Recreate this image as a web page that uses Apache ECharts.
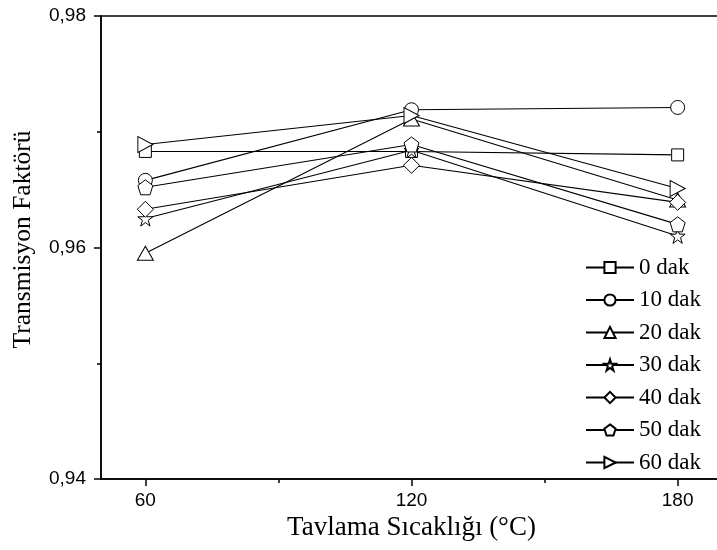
<!DOCTYPE html>
<html>
<head>
<meta charset="utf-8">
<script src="https://cdn.jsdelivr.net/npm/echarts@6/dist/echarts.min.js"></script>
<style>
  html, body { margin: 0; padding: 0; background: #fff; overflow: hidden; }
  #chart { width: 717px; height: 550px; }
</style>
</head>
<body>
<div id="chart"></div>
<script>
// Annealing temperatures (°C)
const temps = [60, 120, 180];
const majorTicksX = [60, 120, 180];
const minorTicksX = [90, 150];

// Transmission factor per annealing time
const seriesNames = ['0 dak', '10 dak', '20 dak', '30 dak', '40 dak', '50 dak', '60 dak'];
const dak0  = [0.9683, 0.9683, 0.9680];
const dak10 = [0.9658, 0.9719, 0.9721];
const dak20 = [0.9595, 0.9711, 0.9641];
const dak30 = [0.9625, 0.9684, 0.9610];
const dak40 = [0.9633, 0.9671, 0.9639];
const dak50 = [0.9652, 0.9689, 0.9620];
const dak60 = [0.9689, 0.9714, 0.9651];
const seriesValues = [dak0, dak10, dak20, dak30, dak40, dak50, dak60];

// Hollow marker outlines
const starPath = 'path://M50,2 L61.2,36.6 L97.6,36.6 L68.2,58 L79.4,92.6 L50,71.2 L20.6,92.6 L31.8,58 L2.4,36.6 L38.8,36.6 Z';
const pentagonPath = 'path://M50,2 L97.6,36.6 L79.4,92.6 L20.6,92.6 L2.4,36.6 Z';
const symbols = ['rect', 'circle', 'triangle', starPath, 'diamond', pentagonPath, 'triangle'];
const symbolSizes = [12, 14, [16, 14], 15, 16, 15, [16, 15]];
const symbolRotates = [0, 0, 0, 0, 0, 0, -90];

const serif = '"Liberation Serif", "Times New Roman", serif';
const sans = '"Liberation Sans", Arial, sans-serif';

const chart = echarts.init(document.getElementById('chart'));

const series = seriesNames.map((name, i) => ({
  name: name,
  type: 'line',
  data: temps.map((t, j) => [t, seriesValues[i][j]]),
  symbol: symbols[i],
  symbolSize: symbolSizes[i],
  symbolRotate: symbolRotates[i],
  showAllSymbol: true,
  lineStyle: { color: '#000', width: 1.1 },
  itemStyle: { color: '#fff', borderColor: '#000', borderWidth: 1 },
  emphasis: { disabled: true },
  animation: false,
  z: 2 + i
}));

chart.setOption({
  backgroundColor: '#fff',
  animation: false,
  grid: {
    left: 101, top: 16, width: 621, height: 463,
    outerBoundsMode: 'none',
    containLabel: false,
    show: true, borderColor: '#000', borderWidth: 1.5, backgroundColor: 'transparent'
  },
  legend: {
    orient: 'vertical',
    left: 585,
    top: 256,
    padding: 0,
    itemWidth: 48,
    itemHeight: 14,
    itemGap: 9.5,
    textStyle: { fontFamily: serif, fontSize: 23, color: '#000' },
    data: seriesNames
  },
  xAxis: [
    {
      type: 'value',
      min: 50, max: 190,
      name: 'Tavlama Sıcaklığı (°C)',
      nameLocation: 'middle',
      nameGap: 31,
      nameTextStyle: { fontFamily: serif, fontSize: 27, color: '#000' },
      axisLine: { show: true, lineStyle: { color: '#000', width: 1.5 } },
      axisTick: { show: true, inside: false, length: 7, lineStyle: { color: '#000', width: 1.5 }, customValues: majorTicksX },
      axisLabel: { show: true, margin: 12, fontFamily: sans, fontSize: 19, color: '#000', customValues: majorTicksX },
      splitLine: { show: false }
    },
    {
      type: 'value',
      min: 50, max: 190,
      position: 'bottom',
      axisLine: { show: false },
      axisTick: { show: true, inside: false, length: 4, lineStyle: { color: '#000', width: 1.5 }, customValues: minorTicksX },
      axisLabel: { show: false },
      splitLine: { show: false }
    }
  ],
  yAxis: {
    type: 'value',
    min: 0.94, max: 0.98, interval: 0.02,
    name: 'Transmisyon Faktörü',
    nameLocation: 'middle',
    nameGap: 65,
    nameTextStyle: { fontFamily: serif, fontSize: 25.5, color: '#000', padding: [0, 0, 0, 16] },
    axisLine: { show: true, lineStyle: { color: '#000', width: 1.5 } },
    axisTick: { show: true, inside: false, length: 7, lineStyle: { color: '#000', width: 1.5 } },
    minorTick: { show: true, splitNumber: 2, length: 4, lineStyle: { color: '#000', width: 1.5 } },
    axisLabel: {
      margin: 15, fontFamily: sans, fontSize: 19, color: '#000',
      formatter: v => v.toFixed(2).replace('.', ',')
    },
    splitLine: { show: false }
  },
  series: series
});
</script>
</body>
</html>
